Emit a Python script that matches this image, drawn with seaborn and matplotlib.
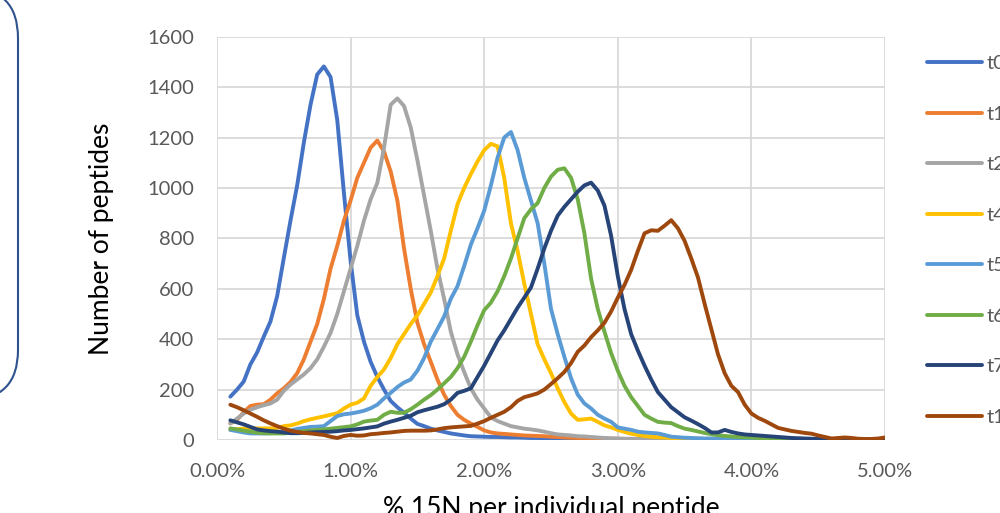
import numpy as np
import pandas as pd
import matplotlib
matplotlib.use("Agg")
import matplotlib.pyplot as plt
import seaborn as sns
from matplotlib.patches import FancyBboxPatch
from matplotlib.ticker import FuncFormatter, MultipleLocator

# x positions: % 15N per individual peptide (0.10% .. 5.00%, step 0.05%)
x_pct = np.round(np.arange(0.10, 5.001, 0.05), 2)

t0 = [172, 200, 232, 300, 347, 410, 470, 570, 722,
      870, 1010, 1180, 1330, 1450, 1482, 1440, 1270, 980,
      710, 495, 390, 310, 250, 200, 155, 130, 108, 85,
      64, 55, 45, 38, 32, 26, 22, 18, 15, 14,
      13, 12, 12, 11, 10, 10, 9, 8, 8, 7,
      6, 6, 5, 5, 4, 4, 3, 3, 3, 2,
      2, 2, 2, 2, 2, 2, 1, 1, 1, 1,
      1, 1, 1, 1, 1, 1, 1, 1, 0, 0,
      0, 0, 0, 0, 0, 0, 0, 0, 0, 0,
      0, 0, 0, 0, 0, 0, 0, 0, 0, 0, 0]

t1 = [66, 80, 110, 135, 140, 142, 160, 185, 205,
      230, 265, 320, 390, 460, 560, 680, 770, 870,
      950, 1040, 1100, 1160, 1188, 1145, 1065, 950, 760, 600,
      465, 380, 310, 240, 180, 135, 100, 80, 65, 52,
      38, 30, 26, 24, 22, 20, 18, 17, 16, 15,
      13, 12, 10, 9, 8, 8, 7, 6, 6, 5,
      5, 4, 4, 4, 3, 3, 3, 3, 2, 2,
      2, 2, 2, 2, 1, 1, 1, 1, 1, 1,
      1, 1, 1, 1, 1, 0, 0, 0, 0, 0,
      0, 0, 0, 0, 0, 0, 0, 0, 0, 0, 0]

t2 = [66, 85, 105, 120, 130, 138, 145, 160, 195,
      220, 240, 260, 285, 320, 370, 425, 500, 590,
      680, 770, 870, 955, 1020, 1160, 1330, 1355, 1325, 1240,
      1110, 970, 830, 680, 560, 430, 340, 270, 205, 160,
      125, 90, 75, 65, 55, 50, 45, 42, 38, 33,
      27, 22, 20, 18, 15, 14, 12, 10, 8, 7,
      6, 5, 5, 4, 4, 4, 3, 3, 3, 3,
      2, 2, 2, 2, 2, 2, 1, 1, 1, 1,
      1, 1, 1, 1, 1, 1, 0, 0, 0, 0,
      0, 0, 0, 0, 0, 0, 0, 0, 0, 0, 0]

t4 = [40, 43, 45, 46, 46, 46, 46, 48, 55,
      58, 65, 75, 82, 88, 94, 100, 106, 125,
      140, 148, 165, 215, 250, 280, 325, 380, 420, 460,
      495, 540, 585, 650, 720, 830, 935, 1000, 1055, 1105,
      1150, 1175, 1165, 1040, 860, 750, 620, 500, 380, 320,
      265, 205, 150, 105, 80, 82, 85, 72, 58, 50,
      40, 32, 25, 20, 16, 13, 11, 10, 8, 7,
      6, 5, 5, 4, 4, 3, 3, 3, 2, 2,
      2, 2, 1, 1, 1, 1, 1, 1, 0, 0,
      0, 0, 0, 0, 0, 0, 0, 0, 0, 0, 0]

t5 = [40, 35, 30, 26, 26, 26, 27, 30, 33,
      38, 44, 48, 52, 53, 55, 75, 95, 102,
      105, 110, 116, 126, 140, 165, 187, 210, 228, 240,
      275, 325, 390, 440, 490, 560, 610, 690, 775, 840,
      910, 1010, 1120, 1200, 1222, 1150, 1040, 950, 860, 700,
      520, 420, 330, 245, 180, 145, 125, 100, 85, 72,
      50, 45, 40, 33, 30, 28, 26, 20, 13, 11,
      9, 8, 7, 6, 6, 5, 5, 4, 4, 3,
      3, 3, 2, 2, 2, 2, 1, 1, 1, 1,
      1, 1, 1, 0, 0, 0, 0, 0, 0, 0, 0]

t6 = [46, 42, 37, 33, 29, 27, 26, 26, 26,
      29, 32, 35, 38, 40, 42, 45, 48, 51,
      54, 62, 73, 77, 80, 100, 112, 108, 108, 122,
      140, 160, 178, 200, 225, 250, 285, 330, 390, 455,
      515, 545, 590, 650, 720, 800, 880, 915, 940, 1000,
      1045, 1072, 1078, 1040, 955, 820, 640, 520, 430, 345,
      275, 215, 170, 135, 100, 85, 72, 69, 67, 55,
      45, 40, 34, 28, 23, 19, 16, 14, 12, 11,
      10, 8, 7, 6, 5, 4, 4, 3, 3, 3,
      2, 2, 2, 2, 2, 1, 1, 1, 1, 1, 1]

t7 = [78, 70, 62, 52, 42, 38, 35, 33, 30,
      27, 27, 28, 30, 31, 32, 33, 35, 38,
      40, 43, 46, 50, 54, 65, 73, 80, 88, 96,
      110, 118, 125, 132, 142, 160, 187, 195, 205, 250,
      295, 345, 395, 435, 480, 525, 565, 605, 680, 760,
      830, 890, 925, 955, 985, 1010, 1021, 990, 930, 810,
      650, 520, 420, 355, 295, 240, 190, 160, 130, 110,
      90, 77, 63, 48, 30, 30, 40, 32, 26, 22,
      20, 18, 16, 14, 12, 10, 8, 7, 6, 5,
      4, 4, 3, 3, 3, 2, 2, 2, 2, 2, 2]

t10 = [140, 130, 118, 105, 92, 78, 66, 55, 45,
       37, 32, 28, 26, 23, 20, 13, 8, 16,
       20, 17, 18, 23, 25, 28, 30, 33, 36, 37,
       37, 37, 38, 42, 47, 50, 52, 54, 56, 65,
       75, 88, 100, 112, 130, 155, 170, 177, 185, 200,
       222, 245, 270, 305, 350, 375, 408, 435, 465, 510,
       565, 615, 675, 750, 820, 832, 830, 850, 872, 840,
       790, 720, 645, 540, 440, 340, 265, 215, 190, 140,
       105, 88, 76, 62, 48, 42, 36, 32, 28, 25,
       18, 12, 6, 8, 10, 8, 5, 4, 4, 6, 10]

series_names = ["t0", "t1", "t2", "t4", "t5", "t6", "t7", "t10"]
series_values = [t0, t1, t2, t4, t5, t6, t7, t10]
colors = ["#4472C4", "#ED7D31", "#A5A5A5", "#FFC000",
          "#5B9BD5", "#70AD47", "#264478", "#9E480E"]

df = pd.DataFrame({
    "x": np.tile(x_pct, len(series_names)),
    "y": np.concatenate([np.asarray(v, float) for v in series_values]),
    "series": np.repeat(series_names, len(x_pct)),
})

sns.set_theme(style="white")
plt.rcParams["font.family"] = ["Lato", "DejaVu Sans"]

fig = plt.figure(figsize=(10, 5.13), dpi=100)
ax = fig.add_axes([0.217, 1 - 440 / 513, 0.668, (440 - 36.7) / 513])

sns.lineplot(data=df, x="x", y="y", hue="series", hue_order=series_names,
             palette=colors, linewidth=2.8, ax=ax, legend=False,
             estimator=None, sort=False,
             solid_capstyle="round", solid_joinstyle="round")

ax.set_xlim(0, 5)
ax.set_ylim(0, 1600)
ax.xaxis.set_major_locator(MultipleLocator(1))
ax.yaxis.set_major_locator(MultipleLocator(200))
ax.xaxis.set_major_formatter(FuncFormatter(lambda v, p: f"{v:.2f}%"))
ax.set_axisbelow(True)
ax.grid(True, color="#D9D9D9", linewidth=1.3)
for s in ax.spines.values():
    s.set_visible(False)
ax.tick_params(length=0, pad=16.5, labelsize=14.5, labelcolor="#595959")
ax.set_xlabel("")
ax.set_ylabel("")

fig.text(101 / 1000, 1 - 239 / 513, "Number of peptides", rotation=90,
         ha="center", va="center", fontsize=19, color="#000000")
fig.text(0.551, 1 - 496 / 513, "% 15N per individual peptide",
         ha="center", va="top", fontsize=19, color="#000000")

handles = list(ax.lines)[:len(series_names)]
leg = fig.legend(handles, series_names, loc="upper left",
                 bbox_to_anchor=(0.927, 1 - 55 / 513), frameon=False,
                 borderpad=0, borderaxespad=0, handlelength=2.74,
                 handletextpad=0.2, labelspacing=1.66, fontsize=14.5)
for t in leg.get_texts():
    t.set_color("#595959")

# rounded box partly visible on the left edge
box = FancyBboxPatch((-1.0, 1.13), 1.18, 4.12,
                     boxstyle="round,pad=0,rounding_size=0.5",
                     transform=fig.dpi_scale_trans, fill=False,
                     edgecolor="#2F528F", linewidth=1.5)
fig.add_artist(box)

fig.savefig("out.png", dpi=100)
